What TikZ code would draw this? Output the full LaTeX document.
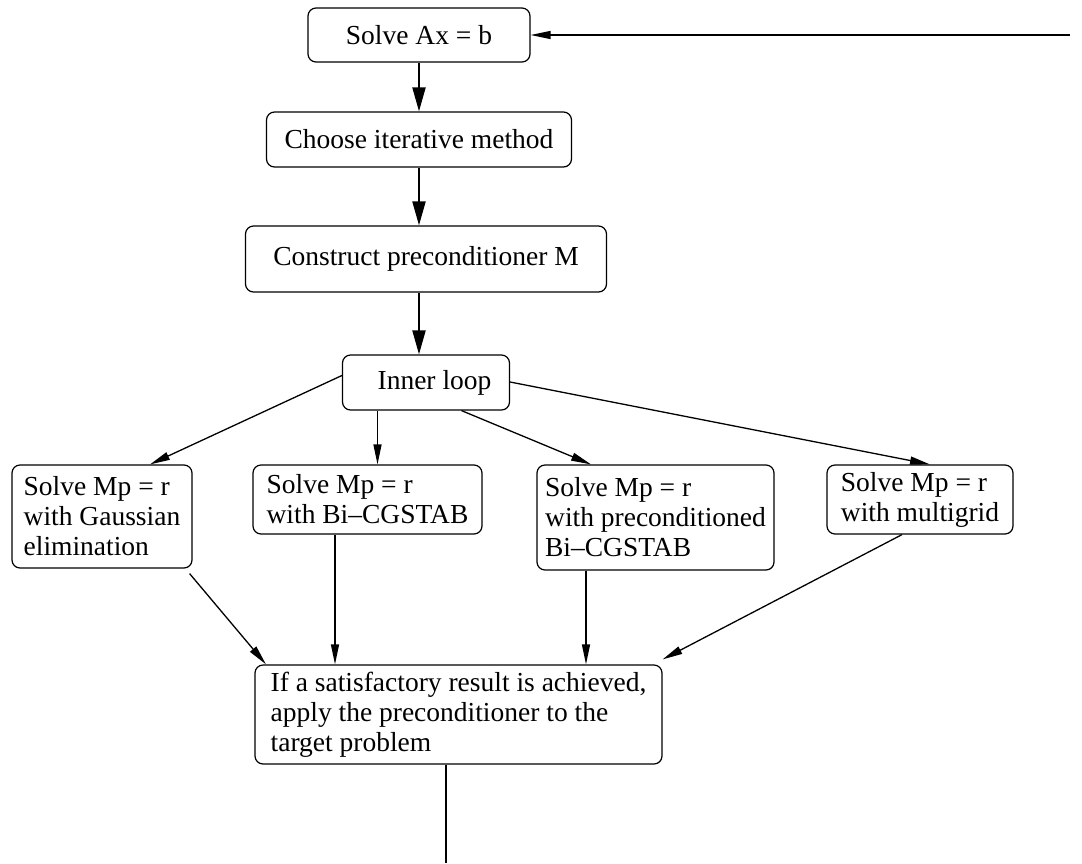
\documentclass[tikz,border=0pt]{standalone}
\usepackage{fontspec}
\setmainfont{Liberation Serif}
\usetikzlibrary{arrows.meta,positioning}

\begin{document}
\begin{tikzpicture}[x=1pt, y=-1pt, node distance=1cm, on grid,
	box/.style = {draw, rounded corners=8pt, line width=1.2pt, align=left, inner sep=0pt,
		font=\fontsize{27.5}{30}\selectfont},
	thin/.style = {-{Triangle[length=20pt, width=8pt]}, line width=1.3pt},
	thick/.style = {-{Triangle[length=24pt, width=13pt]}, line width=2pt}]
	\useasboundingbox (0,0) rectangle (1082,863);

	\node	(solve)	[box, minimum width=222, minimum height=54] at (419,35)		{Solve Ax = b};
	\node	(choose)	[box, minimum width=305, minimum height=55, below=104.5pt of solve]	{Choose iterative method};
	\node	(precond)	[box, minimum width=361, minimum height=66, below=119.5pt of choose, xshift=7pt]	{Construct preconditioner M};
	\node	(inner)	[box, minimum width=167, minimum height=55, below=123.5pt of precond]	{\hspace{17pt}Inner loop};

	\node	(gauss)	[box, minimum width=180, minimum height=103] at (102,516.5)	{Solve Mp = r\\with Gaussian\\elimination};
	\node	(bicg)	[box, minimum width=229, minimum height=69] at (367.5,499.5)	{Solve Mp = r\\with Bi--CGSTAB};
	\node	(pbicg)	[box, minimum width=237, minimum height=105] at (655.5,517.5)	{Solve Mp = r\\with preconditioned\\Bi--CGSTAB};
	\node	(mgrid)	[box, minimum width=186, minimum height=69] at (920,499.5)	{Solve Mp = r\\with multigrid};

	\node	(apply)	[box, minimum width=407, minimum height=99] at (458.5,714.5)	{If a satisfactory result is achieved,\\apply the preconditioner to the\\target problem};

	\coordinate (back) at (1070,35);
	\coordinate (out) at (446,863);

	\path [thick]
	(solve.south)	edge	(choose.north)
	(choose.south)	edge	(choose.south |- precond.north)
	(choose.south |- precond.south)	edge	(choose.south |- inner.north)
	;
	\path [thin]
	(back)	edge	(solve.east)
	([yshift=7pt]inner.west)	edge	([xshift=48pt]gauss.north)
	([xshift=-48.5pt]inner.south)	edge	([xshift=-48.5pt]inner.south |- bicg.north)
	([xshift=35.5pt]inner.south)	edge	([xshift=-64.5pt]pbicg.north)
	([yshift=0.5pt]inner.east)	edge	([xshift=10pt]mgrid.north)
	([xshift=-3pt, yshift=-5pt]gauss.south east)	edge	([xshift=-192.5pt]apply.north)
	([xshift=-32.5pt]bicg.south)	edge	([xshift=-32.5pt]bicg.south |- apply.north)
	([xshift=-69.5pt]pbicg.south)	edge	([xshift=-69.5pt]pbicg.south |- apply.north)
	([xshift=-18pt]mgrid.south)	edge	([yshift=5pt]apply.north east)
	;
	\draw [line width=1.3pt] (apply.south -| out) -- (out);
\end{tikzpicture}
\end{document}
